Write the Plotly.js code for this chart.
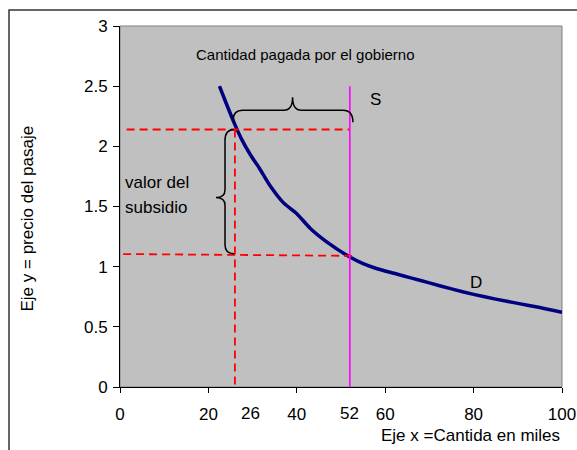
<!DOCTYPE html>
<html>
<head>
<meta charset="utf-8">
<script src="https://cdn.plot.ly/plotly-3.0.1.min.js"></script>
<style>html,body{margin:0;padding:0;background:#fff;}#chart{width:577px;height:450px;}</style>
</head>
<body>
<div id="chart"></div>
<script>
// Demand curve D (quantity in thousands, price)
const demandX = [22.5, 24, 26, 27.5, 29.5, 31.5, 34, 37, 40, 43, 47, 52, 55, 58, 62, 66, 70, 75, 80, 85, 90, 95, 100];
const demandY = [2.5, 2.36, 2.18, 2.06, 1.93, 1.82, 1.67, 1.53, 1.44, 1.32, 1.2, 1.08, 1.025, 0.985, 0.945, 0.905, 0.865, 0.815, 0.77, 0.73, 0.695, 0.66, 0.62];
// Supply S (vertical, fixed quantity)
const supplyQ = 52;
const supplyTop = 2.5;
// Subsidy quantities and prices
const qSubsidy = 26;
const pHigh = 2.14;
const pLow = 1.1;
// Axis ticks
const xTicks = [0, 20, 40, 60, 80, 100];
const xExtraTicks = [26, 52];
const yTicks = [0, 0.5, 1, 1.5, 2, 2.5, 3];
const yTickText = ["0", "0.5", "1", "1.5", "2", "2.5", "3"];

const FONT = "Liberation Sans, Arial, sans-serif";

const traces = [
  {x: demandX, y: demandY, mode: "lines", line: {color: "#000080", width: 3.5, shape: "spline", smoothing: 0.6}, hoverinfo: "skip"},
  {x: [1.5, supplyQ], y: [pHigh, pHigh], mode: "lines", line: {color: "#FF0000", width: 1.8, dash: "8px,5px"}, hoverinfo: "skip"},
  {x: [0.7, supplyQ + 0.6], y: [pLow + 0.005, pLow - 0.01], mode: "lines", line: {color: "#FF0000", width: 1.8, dash: "8px,5px"}, hoverinfo: "skip"},
  {x: [qSubsidy, qSubsidy], y: [pHigh, 0], mode: "lines", line: {color: "#FF0000", width: 1.8, dash: "8px,5px"}, hoverinfo: "skip"},
  {x: [supplyQ, supplyQ], y: [0, supplyTop], mode: "lines", line: {color: "#FF00FF", width: 1.6}, hoverinfo: "skip"}
];

// Horizontal brace (quantity paid by government)
const hb = {x0: qSubsidy - 0.4, x1: supplyQ + 0.7, yBar: 2.30, yEnd0: 2.217, yEnd1: 2.20, tipY: 2.408};
const hMid = (hb.x0 + hb.x1) / 2 - 0.1;
const hPath = `M ${hb.x0},${hb.yEnd0} Q ${hb.x0},${hb.yBar} ${hb.x0 + 2.2},${hb.yBar} L ${hMid - 2},${hb.yBar} Q ${hMid},${hb.yBar} ${hMid},${hb.tipY} Q ${hMid},${hb.yBar} ${hMid + 2},${hb.yBar} L ${hb.x1 - 2.3},${hb.yBar} Q ${hb.x1},${hb.yBar} ${hb.x1},${hb.yEnd1}`;
// Vertical brace (value of subsidy)
const vb = {xEnd: qSubsidy - 0.2, xBar: 23.76, xTip: 21.7};
const vMid = (pHigh + pLow) / 2 - 0.045;
const vPath = `M ${vb.xEnd},${pHigh} Q ${vb.xBar},${pHigh} ${vb.xBar},${pHigh - 0.09} L ${vb.xBar},${vMid + 0.065} Q ${vb.xBar},${vMid} ${vb.xTip},${vMid} Q ${vb.xBar},${vMid} ${vb.xBar},${vMid - 0.065} L ${vb.xBar},${pLow + 0.08} Q ${vb.xBar},${pLow + 0.008} ${vb.xEnd},${pLow + 0.008}`;

const shapes = [
  {type: "rect", xref: "paper", yref: "paper", x0: 0, x1: 1, y0: 0, y1: 1, line: {color: "#808080", width: 1}, fillcolor: "rgba(0,0,0,0)", layer: "below"},
  {type: "path", xref: "x", yref: "y", path: hPath, line: {color: "#000000", width: 1.5}, layer: "above"},
  {type: "path", xref: "x", yref: "y", path: vPath, line: {color: "#000000", width: 1.5}, layer: "above"},
  {type: "rect", xref: "paper", yref: "paper", x0: -0.2511, x1: 1.05, y0: -0.2, y1: 1.0443, line: {color: "#333333", width: 1.5}, fillcolor: "rgba(0,0,0,0)", layer: "above"}
];

const txt = (size) => ({family: FONT, size: size, color: "#000"});
const annotations = [
  {text: "Cantidad pagada por el gobierno", x: 41.9, y: 2.76, xref: "x", yref: "y", showarrow: false, font: txt(15)},
  {text: "S", x: supplyQ + 5.9, y: 2.39, xref: "x", yref: "y", showarrow: false, font: txt(17)},
  {text: "D", x: 80.5, y: 0.87, xref: "x", yref: "y", showarrow: false, font: txt(17)},
  {text: "valor del", x: 0.6, y: 1.70, xref: "x", yref: "y", xanchor: "left", showarrow: false, font: txt(17)},
  {text: "subsidio", x: 0.6, y: 1.49, xref: "x", yref: "y", xanchor: "left", showarrow: false, font: txt(17)},
  {text: String(xExtraTicks[0]), x: xExtraTicks[0], y: 0, xref: "x", yref: "paper", xshift: 16, yshift: -26, yanchor: "middle", showarrow: false, font: txt(17)},
  {text: String(xExtraTicks[1]), x: xExtraTicks[1], y: 0, xref: "x", yref: "paper", yshift: -26, yanchor: "middle", showarrow: false, font: txt(17)},
  {text: "Eje x =Cantida en miles", x: 1, y: 0, xref: "paper", yref: "paper", xanchor: "right", yanchor: "middle", yshift: -48, showarrow: false, font: txt(17)},
  {text: "Eje y = precio del pasaje", x: 0, y: 0.5, xref: "paper", yref: "paper", xanchor: "center", yanchor: "middle", xshift: -93, yshift: -12, textangle: -90, showarrow: false, font: txt(17)}
];

const layout = {
  width: 577, height: 450,
  margin: {l: 120, r: 15, t: 26, b: 63},
  paper_bgcolor: "#FFFFFF",
  plot_bgcolor: "#C0C0C0",
  showlegend: false,
  font: {family: FONT, size: 17, color: "#000"},
  xaxis: {range: [0, 100], tickvals: xTicks, ticktext: xTicks.map(String), ticks: "outside", ticklen: 5, tickcolor: "#000", ticklabelstandoff: 7, showgrid: false, zeroline: false, showline: true, linecolor: "#000", linewidth: 1, tickfont: txt(17), fixedrange: true},
  yaxis: {range: [0, 3], tickvals: yTicks, ticktext: yTickText, ticks: "outside", ticklen: 6, tickcolor: "#000", ticklabelstandoff: 2, showgrid: false, zeroline: false, showline: true, linecolor: "#000", linewidth: 1, tickfont: txt(17), fixedrange: true},
  shapes: shapes,
  annotations: annotations
};

Plotly.newPlot("chart", traces, layout, {staticPlot: true, displayModeBar: false});
</script>
</body>
</html>
